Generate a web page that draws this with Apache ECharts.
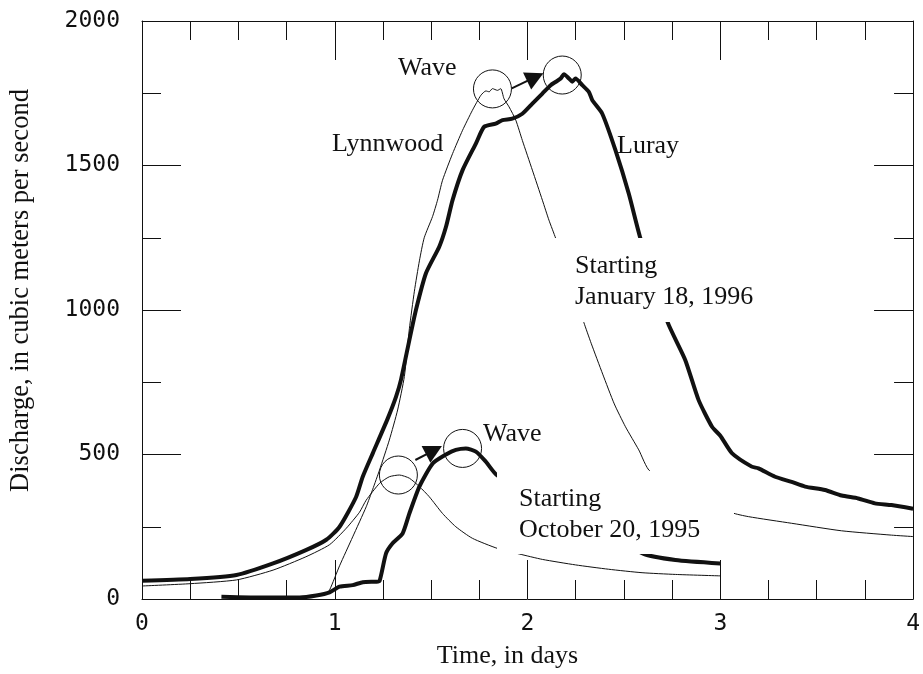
<!DOCTYPE html>
<html>
<head>
<meta charset="utf-8">
<script src="https://cdn.jsdelivr.net/npm/echarts@6/dist/echarts.min.js"></script>
<style>
  html, body { margin: 0; padding: 0; background: #fff; }
  #chart { width: 923px; height: 674px; }
</style>
</head>
<body>
<div id="chart"></div>
<script>
// Discharge hydrographs, Lynnwood and Luray, for two floods.
// Time in days since start of record, discharge in m3/s.

// Flood starting January 18, 1996 - Luray
const janLurayT = [0.0, 0.25, 0.49, 0.68, 0.85, 0.956, 1.025, 1.11, 1.145, 1.197, 1.275, 1.318, 1.344, 1.387, 1.421, 1.473, 1.542, 1.577, 1.611, 1.663, 1.732, 1.775, 1.835, 1.87, 1.921, 1.973, 2.025, 2.077, 2.12, 2.145, 2.172, 2.189, 2.215, 2.232, 2.249, 2.284, 2.318, 2.336, 2.387, 2.456, 2.525, 2.586, 2.727, 2.818, 2.887, 2.957, 3.0, 3.06, 3.163, 3.198, 3.284, 3.37, 3.44, 3.543, 3.629, 3.715, 3.802, 3.888, 4.0];
const janLurayQ = [63, 69, 83, 123, 169, 205, 250, 352, 423, 504, 625, 700, 760, 896, 1000, 1127, 1219, 1288, 1380, 1484, 1576, 1634, 1645, 1657, 1662, 1679, 1714, 1749, 1778, 1789, 1801, 1816, 1801, 1790, 1801, 1778, 1755, 1726, 1680, 1553, 1403, 1247, 957, 827, 689, 596, 565, 505, 458, 452, 423, 405, 389, 377, 358, 348, 331, 325, 312];

// Flood starting January 18, 1996 - Lynnwood
const janLynnT = [0.95, 0.973, 1.025, 1.093, 1.163, 1.197, 1.232, 1.283, 1.326, 1.361, 1.387, 1.413, 1.439, 1.464, 1.507, 1.533, 1.559, 1.611, 1.663, 1.714, 1.758, 1.784, 1.801, 1.818, 1.844, 1.861, 1.878, 1.904, 1.939, 1.973, 2.025, 2.077, 2.111, 2.146, 2.292, 2.33, 2.39, 2.45, 2.508, 2.577, 2.637, 3.06, 3.146, 3.37, 3.629, 3.888, 4.0];
const janLynnQ = [14, 31, 115, 215, 319, 380, 446, 550, 654, 770, 935, 1065, 1170, 1250, 1323, 1380, 1449, 1541, 1622, 1691, 1743, 1758, 1755, 1766, 1760, 1766, 1731, 1703, 1657, 1587, 1484, 1380, 1311, 1248, 957, 885, 778, 675, 596, 516, 441, 299, 285, 262, 236, 221, 216];

// Flood starting October 20, 1995 - Lynnwood
const octLynnT = [0.0, 0.25, 0.49, 0.68, 0.85, 0.973, 1.06, 1.128, 1.163, 1.232, 1.283, 1.335, 1.387, 1.439, 1.49, 1.559, 1.628, 1.714, 1.844, 1.956, 2.077, 2.249, 2.42, 2.594, 2.767, 3.0];
const octLynnQ = [45, 53, 66, 100, 146, 188, 245, 300, 342, 400, 423, 429, 418, 389, 354, 296, 250, 210, 175, 156, 137, 118, 103, 91, 85, 80];

// Flood starting October 20, 1995 - Luray
const octLurayT = [0.412, 0.645, 0.818, 0.904, 0.973, 1.025, 1.093, 1.145, 1.214, 1.232, 1.266, 1.3, 1.352, 1.387, 1.439, 1.508, 1.577, 1.628, 1.68, 1.732, 1.784, 1.844, 2.603, 2.767, 3.0];
const octLurayQ = [8, 5, 5, 12, 23, 43, 48, 58, 60, 62, 158, 193, 227, 296, 389, 469, 500, 516, 521, 510, 475, 427, 156, 135, 123];

// Circled wave crests
const waveCrests = [[1.818, 1765], [2.180, 1813], [1.330, 429], [1.663, 521]];
// Arrows from one crest to the next: [fromDay, fromQ, tipDay, tipQ]
const waveArrows = [[1.918, 1767, 2.082, 1819], [1.418, 481, 1.556, 529]];

const xTicks = { min: 0, max: 4, step: 1 };
const yTicks = { min: 0, max: 2000, step: 500 };

const zip = (t, q) => t.map((v, i) => [v, q[i]]);

const INK = '#111';
const serif = 'Liberation Serif, Times New Roman, serif';
const mono = 'DejaVu Sans Mono, monospace';

function axisCommon(extra) {
  return Object.assign({
    type: 'value',
    axisLine: { show: true, onZero: false, lineStyle: { color: INK, width: 1 } },
    axisTick: { show: true, inside: true, length: 39, lineStyle: { color: INK, width: 1 } },
    splitLine: { show: false },
    minorSplitLine: { show: false }
  }, extra);
}

const chart = echarts.init(document.getElementById('chart'), null, { renderer: 'canvas' });

const crestMark = (pt) => ({
  symbol: 'circle',
  symbolSize: 38,
  silent: true,
  label: { show: false },
  itemStyle: { color: 'rgba(0,0,0,0)', borderColor: INK, borderWidth: 1 },
  data: [{ coord: pt }]
});

// Arrow: shaft plus filled triangular head, built in pixel space from data coords
function renderArrow(params, api) {
  const a = api.coord([api.value(0), api.value(1)]);
  const b = api.coord([api.value(2), api.value(3)]);
  const dx = b[0] - a[0], dy = b[1] - a[1];
  const len = Math.hypot(dx, dy);
  const ux = dx / len, uy = dy / len;
  const headLen = 18, headHalf = 9.5;
  const base = [b[0] - ux * headLen, b[1] - uy * headLen];
  return {
    type: 'group',
    children: [
      { type: 'line', shape: { x1: a[0], y1: a[1], x2: base[0] + ux * 2, y2: base[1] + uy * 2 },
        style: { stroke: INK, lineWidth: 2 } },
      { type: 'polygon',
        shape: { points: [b, [base[0] - uy * headHalf, base[1] + ux * headHalf], [base[0] + uy * headHalf, base[1] - ux * headHalf]] },
        style: { fill: INK } }
    ]
  };
}

const lineSeries = (name, t, q, width, crest) => ({
  name, type: 'line', data: zip(t, q),
  showSymbol: false, silent: true,
  smooth: 0.2,
  lineStyle: { color: INK, width, join: 'round' },
  markPoint: crestMark(crest)
});

chart.setOption({
  animation: false,
  backgroundColor: '#fff',
  grid: { left: 142, right: 8, top: 21, bottom: 75, containLabel: false },
  xAxis: [
    axisCommon({
      min: xTicks.min, max: xTicks.max, interval: xTicks.step, position: 'bottom',
      minorTick: { show: true, splitNumber: 4, length: 19, lineStyle: { color: INK, width: 1 } },
      axisLabel: { fontFamily: mono, fontSize: 23, color: INK, margin: 14, formatter: (v) => String(v) },
      name: 'Time, in days', nameLocation: 'middle', nameGap: 44,
      nameTextStyle: { fontFamily: serif, fontSize: 26, color: INK, padding: [0, 40, 0, 0] }
    }),
    axisCommon({
      min: xTicks.min, max: xTicks.max, interval: xTicks.step, position: 'top',
      minorTick: { show: true, splitNumber: 4, length: 19, lineStyle: { color: INK, width: 1 } },
      axisLabel: { show: false }
    })
  ],
  yAxis: [
    axisCommon({
      min: yTicks.min, max: yTicks.max, interval: yTicks.step, position: 'left',
      minorTick: { show: true, splitNumber: 2, length: 19, lineStyle: { color: INK, width: 1 } },
      axisLabel: { fontFamily: mono, fontSize: 23, color: INK, margin: 22, formatter: (v) => String(v) },
      name: 'Discharge, in cubic meters per second', nameLocation: 'middle', nameGap: 107,
      nameTextStyle: { fontFamily: serif, fontSize: 26.5, color: INK, padding: [0, 0, 0, 39] }
    }),
    axisCommon({
      min: yTicks.min, max: yTicks.max, interval: yTicks.step, position: 'right',
      minorTick: { show: true, splitNumber: 2, length: 19, lineStyle: { color: INK, width: 1 } },
      axisLabel: { show: false }
    })
  ],
  series: [
    lineSeries('Luray, January 1996', janLurayT, janLurayQ, 4, waveCrests[1]),
    lineSeries('Lynnwood, January 1996', janLynnT, janLynnQ, 1, waveCrests[0]),
    lineSeries('Lynnwood, October 1995', octLynnT, octLynnQ, 1, waveCrests[2]),
    lineSeries('Luray, October 1995', octLurayT, octLurayQ, 4, waveCrests[3]),
    {
      name: 'Wave travel', type: 'custom', data: waveArrows, silent: true,
      encode: { x: [0, 2], y: [1, 3] },
      renderItem: renderArrow, z: 5
    }
  ],
  graphic: [
    // white panels behind the flood date notes
    { type: 'rect', z: 50, silent: true, shape: { x: 553, y: 238, width: 215, height: 84 }, style: { fill: '#fff' } },
    { type: 'rect', z: 50, silent: true, shape: { x: 497, y: 471, width: 237, height: 83 }, style: { fill: '#fff' } },
    { type: 'text', z: 60, silent: true, x: 398, y: 68,
      style: { text: 'Wave', font: '26px ' + serif, fill: INK, verticalAlign: 'middle' } },
    { type: 'text', z: 60, silent: true, x: 332, y: 144,
      style: { text: 'Lynnwood', font: '26px ' + serif, fill: INK, verticalAlign: 'middle' } },
    { type: 'text', z: 60, silent: true, x: 617, y: 146,
      style: { text: 'Luray', font: '26px ' + serif, fill: INK, verticalAlign: 'middle' } },
    { type: 'text', z: 60, silent: true, x: 575, y: 282,
      style: { text: 'Starting\nJanuary 18, 1996', font: '26px ' + serif, lineHeight: 31, fill: INK, verticalAlign: 'middle' } },
    { type: 'text', z: 60, silent: true, x: 483, y: 434,
      style: { text: 'Wave', font: '26px ' + serif, fill: INK, verticalAlign: 'middle' } },
    { type: 'text', z: 60, silent: true, x: 519, y: 515,
      style: { text: 'Starting\nOctober 20, 1995', font: '26px ' + serif, lineHeight: 31, fill: INK, verticalAlign: 'middle' } }
  ]
});
</script>
</body>
</html>
